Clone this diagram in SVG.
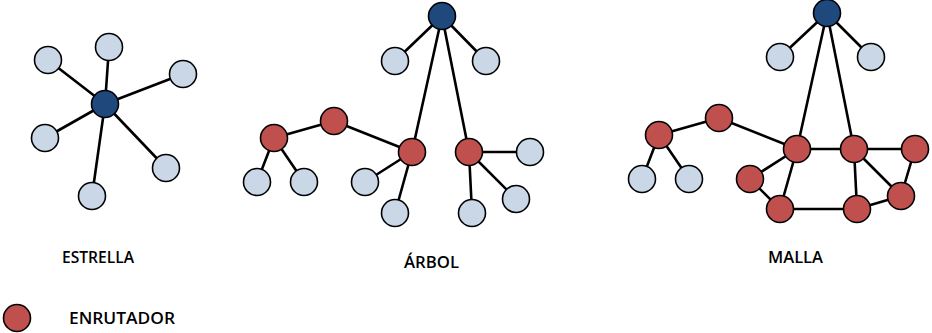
<svg xmlns="http://www.w3.org/2000/svg" width="932" height="333" viewBox="0 0 932 333">
  <style>
    .edge { stroke: #000; stroke-width: 2.6; fill: none; stroke-linecap: round; }
    .host { fill: #c9d7e6; stroke: #000; stroke-width: 1.6; }
    .router { fill: #c0504d; stroke: #000; stroke-width: 1.6; }
    .hub { fill: #1f497d; stroke: #000; stroke-width: 1.6; }
    .label { font-family: "Open Sans", "Liberation Sans", Arial, sans-serif; font-weight: 600; font-size: 16px; fill: #000; }
  </style>
  <rect width="932" height="333" fill="#fff"/>

  <!-- connectors -->
  <g id="connectors">
    <!-- star -->
    <line class="edge" x1="105" y1="104" x2="48" y2="60"/>
    <line class="edge" x1="105" y1="104" x2="109" y2="47"/>
    <line class="edge" x1="105" y1="104" x2="183" y2="74"/>
    <line class="edge" x1="105" y1="104" x2="45" y2="138"/>
    <line class="edge" x1="105" y1="104" x2="166" y2="168"/>
    <line class="edge" x1="105" y1="104" x2="92" y2="196"/>
    <!-- tree -->
    <line class="edge" x1="442" y1="16" x2="395" y2="61"/>
    <line class="edge" x1="442" y1="16" x2="486" y2="61"/>
    <line class="edge" x1="442" y1="16" x2="412" y2="152"/>
    <line class="edge" x1="442" y1="16" x2="469" y2="152"/>
    <line class="edge" x1="334" y1="121" x2="274" y2="138"/>
    <line class="edge" x1="334" y1="121" x2="412" y2="152"/>
    <line class="edge" x1="274" y1="138" x2="257" y2="182"/>
    <line class="edge" x1="274" y1="138" x2="304" y2="182"/>
    <line class="edge" x1="412" y1="152" x2="365" y2="182"/>
    <line class="edge" x1="412" y1="152" x2="395" y2="213"/>
    <line class="edge" x1="469" y1="152" x2="530" y2="152"/>
    <line class="edge" x1="469" y1="152" x2="472" y2="213"/>
    <line class="edge" x1="469" y1="152" x2="516" y2="199"/>
    <!-- mesh -->
    <line class="edge" x1="827" y1="13" x2="780" y2="57"/>
    <line class="edge" x1="827" y1="13" x2="871" y2="57"/>
    <line class="edge" x1="827" y1="13" x2="797" y2="149"/>
    <line class="edge" x1="827" y1="13" x2="854" y2="149"/>
    <line class="edge" x1="719" y1="118" x2="659" y2="135"/>
    <line class="edge" x1="719" y1="118" x2="797" y2="149"/>
    <line class="edge" x1="659" y1="135" x2="642" y2="179"/>
    <line class="edge" x1="659" y1="135" x2="689" y2="179"/>
    <line class="edge" x1="797" y1="149" x2="854" y2="149"/>
    <line class="edge" x1="854" y1="149" x2="915" y2="149"/>
    <line class="edge" x1="797" y1="149" x2="750" y2="179"/>
    <line class="edge" x1="797" y1="149" x2="780" y2="209"/>
    <line class="edge" x1="750" y1="179" x2="780" y2="209"/>
    <line class="edge" x1="780" y1="209" x2="857" y2="209"/>
    <line class="edge" x1="857" y1="209" x2="901" y2="196"/>
    <line class="edge" x1="901" y1="196" x2="915" y2="149"/>
    <line class="edge" x1="854" y1="149" x2="857" y2="209"/>
    <line class="edge" x1="854" y1="149" x2="901" y2="196"/>
  </g>

  <!-- star topology -->
  <g id="star">
    <g id="star-hub"><circle class="hub" cx="105" cy="104" r="13.5"/></g>
    <g id="star-h1"><circle class="host" cx="48" cy="60" r="13.5"/></g>
    <g id="star-h2"><circle class="host" cx="109" cy="47" r="13.5"/></g>
    <g id="star-h3"><circle class="host" cx="183" cy="74" r="13.5"/></g>
    <g id="star-h4"><circle class="host" cx="45" cy="138" r="13.5"/></g>
    <g id="star-h5"><circle class="host" cx="166" cy="168" r="13.5"/></g>
    <g id="star-h6"><circle class="host" cx="92" cy="196" r="13.5"/></g>
  </g>

  <!-- tree topology -->
  <g id="tree">
    <g id="tree-root"><circle class="hub" cx="442" cy="16" r="13.5"/></g>
    <g id="tree-h1"><circle class="host" cx="395" cy="61" r="13.5"/></g>
    <g id="tree-h2"><circle class="host" cx="486" cy="61" r="13.5"/></g>
    <g id="tree-r1"><circle class="router" cx="334" cy="121" r="13.5"/></g>
    <g id="tree-r2"><circle class="router" cx="274" cy="138" r="13.5"/></g>
    <g id="tree-r3"><circle class="router" cx="412" cy="152" r="13.5"/></g>
    <g id="tree-r4"><circle class="router" cx="469" cy="152" r="13.5"/></g>
    <g id="tree-h3"><circle class="host" cx="530" cy="152" r="13.5"/></g>
    <g id="tree-h4"><circle class="host" cx="257" cy="182" r="13.5"/></g>
    <g id="tree-h5"><circle class="host" cx="304" cy="182" r="13.5"/></g>
    <g id="tree-h6"><circle class="host" cx="365" cy="182" r="13.5"/></g>
    <g id="tree-h7"><circle class="host" cx="395" cy="213" r="13.5"/></g>
    <g id="tree-h8"><circle class="host" cx="472" cy="213" r="13.5"/></g>
    <g id="tree-h9"><circle class="host" cx="516" cy="199" r="13.5"/></g>
  </g>

  <!-- mesh topology -->
  <g id="mesh">
    <g id="mesh-root"><circle class="hub" cx="827" cy="13" r="13.5"/></g>
    <g id="mesh-h1"><circle class="host" cx="780" cy="57" r="13.5"/></g>
    <g id="mesh-h2"><circle class="host" cx="871" cy="57" r="13.5"/></g>
    <g id="mesh-r1"><circle class="router" cx="719" cy="118" r="13.5"/></g>
    <g id="mesh-r2"><circle class="router" cx="659" cy="135" r="13.5"/></g>
    <g id="mesh-h3"><circle class="host" cx="642" cy="179" r="13.5"/></g>
    <g id="mesh-h4"><circle class="host" cx="689" cy="179" r="13.5"/></g>
    <g id="mesh-r3"><circle class="router" cx="797" cy="149" r="13.5"/></g>
    <g id="mesh-r4"><circle class="router" cx="854" cy="149" r="13.5"/></g>
    <g id="mesh-r5"><circle class="router" cx="915" cy="149" r="13.5"/></g>
    <g id="mesh-r6"><circle class="router" cx="750" cy="179" r="13.5"/></g>
    <g id="mesh-r7"><circle class="router" cx="780" cy="209" r="13.5"/></g>
    <g id="mesh-r8"><circle class="router" cx="857" cy="209" r="13.5"/></g>
    <g id="mesh-r9"><circle class="router" cx="901" cy="196" r="13.5"/></g>
  </g>

  <!-- captions -->
  <g id="captions">
    <text class="label" x="62" y="263" textLength="72" lengthAdjust="spacingAndGlyphs">ESTRELLA</text>
    <text class="label" x="404" y="268" textLength="55" lengthAdjust="spacingAndGlyphs">ÁRBOL</text>
    <text class="label" x="768" y="263" textLength="55" lengthAdjust="spacingAndGlyphs">MALLA</text>
  </g>

  <!-- legend -->
  <g id="legend">
    <circle class="router" cx="17" cy="318" r="13.5"/>
    <text class="label" x="69" y="324" textLength="106" lengthAdjust="spacingAndGlyphs">ENRUTADOR</text>
  </g>
</svg>
